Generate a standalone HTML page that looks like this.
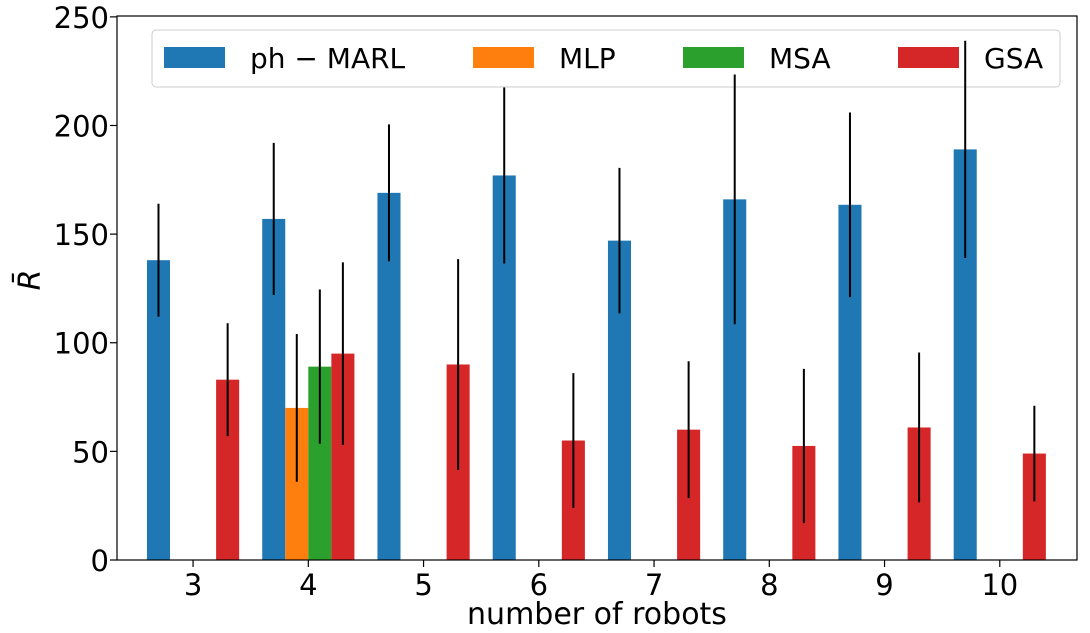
<!DOCTYPE html>
<html><head><meta charset="utf-8"><style>
body{margin:0;background:#fff;}
svg text{font-family:"DejaVu Sans","Liberation Sans",sans-serif;fill:#000;}
</style></head><body>
<svg id="chart" width="1090" height="628" xmlns="http://www.w3.org/2000/svg">
<g id="plot"></g>
</svg>
<script>
const categories=[3,4,5,6,7,8,9,10];
const phMean=[138,157,169,177,147,166,163.5,189];
const phErr=[26,35,31.5,40.5,33.5,57.5,42.5,50];
const gsaMean=[83,95,90,55,60,52.5,61,49];
const gsaErr=[26,42,48.5,31,31.5,35.5,34.5,22];
const mlpMean=[70];const mlpErr=[34];const mlpCats=[4];
const msaMean=[89];const msaErr=[35.5];const msaCats=[4];
const yTicks=[0,50,100,150,200,250];

const L=117,R=1077,T=16,B=560,xmin=2.34,xmax=10.67,ymin=0,ymax=250.4;
const sx=v=>L+(v-xmin)/(xmax-xmin)*(R-L);
const sy=v=>B-(v-ymin)/(ymax-ymin)*(B-T);
const w=0.2;
const ns="http://www.w3.org/2000/svg";
const g=document.getElementById('plot');
function mk(t,a,p){const e=document.createElementNS(ns,t);for(const k in a)e.setAttribute(k,a[k]);(p||g).appendChild(e);return e;}
const errs=[];
function series(cats,vals,er,off,color,name){
  cats.forEach((c,i)=>{
    const x0=sx(c+off-w/2),x1=sx(c+off+w/2);
    const r=mk('rect',{x:x0,y:sy(vals[i]),width:x1-x0,height:sy(0)-sy(vals[i]),fill:color});
    
    
    errs.push([c+off,vals[i]-er[i],vals[i]+er[i],name+'-error-'+c]);
  });
}
series(categories,phMean,phErr,-0.3,'#1f77b4','ph-marl');
series(mlpCats,mlpMean,mlpErr,-0.1,'#ff7f0e','mlp');
series(msaCats,msaMean,msaErr,0.1,'#2ca02c','msa');
series(categories,gsaMean,gsaErr,0.3,'#d62728','gsa');
const f=mk('rect',{x:L,y:T,width:R-L,height:B-T,fill:'none',stroke:'#000','stroke-width':1.2});


yTicks.forEach(v=>{
  mk('line',{x1:L-7,x2:L,y1:sy(v),y2:sy(v),stroke:'#000','stroke-width':1.2});
  const t=mk('text',{x:L-8,y:sy(v)+11,'text-anchor':'end','font-size':29});t.textContent=v;
  
  
});
categories.forEach(c=>{
  mk('line',{x1:sx(c),x2:sx(c),y1:B,y2:B+7,stroke:'#000','stroke-width':1.2});
  const t=mk('text',{x:sx(c),y:B+35,'text-anchor':'middle','font-size':29});t.textContent=c;
  
  
});
const xl=mk('text',{x:(L+R)/2,y:624,'text-anchor':'middle','font-size':30});xl.textContent='number of robots';


const yl=mk('text',{x:0,y:0,'text-anchor':'middle','font-size':30,'font-style':'italic',transform:'translate(40,280) rotate(-90)'});yl.textContent='R̄';


const lg=mk('g',{});


mk('rect',{x:152,y:30,width:908,height:57,rx:4,fill:'#fff','fill-opacity':0.8,stroke:'#ccc'},lg);
[['ph − MARL','#1f77b4',164],['MLP','#ff7f0e',473],['MSA','#2ca02c',683],['GSA','#d62728',898]].forEach(e=>{
  const it=mk('g',{},lg);
  
  
  mk('rect',{x:e[2],y:47,width:61,height:21,fill:e[1]},it);
  const t=mk('text',{x:e[2]+86,y:68,'font-size':28},it);t.textContent=e[0];
});
errs.forEach(e=>{
  const l=mk('line',{x1:sx(e[0]),x2:sx(e[0]),y1:sy(e[1]),y2:sy(e[2]),stroke:'#000','stroke-width':2});
  
  
});
</script>
</body></html>
